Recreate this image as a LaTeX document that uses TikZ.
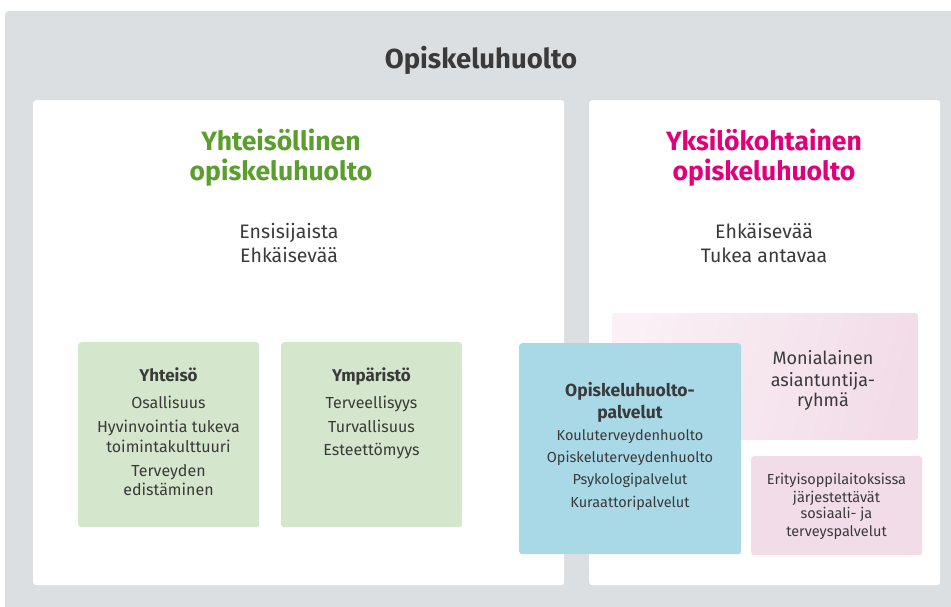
\documentclass[tikz,border=0pt]{standalone}
\usepackage{fontspec}
\setmainfont{Fira Sans}
\definecolor{bggray}{HTML}{DCDFE2}
\definecolor{txt}{HTML}{3A3A3A}
\definecolor{grn}{HTML}{5A9E2E}
\definecolor{mag}{HTML}{E2007A}
\definecolor{greenbox}{HTML}{D4E6CB}
\definecolor{bluebox}{HTML}{A9D8E6}
\definecolor{pinkbox}{HTML}{F2DCE8}
\definecolor{pinklight}{HTML}{FAF0F5}
\tikzset{
  panel/.style={fill=#1, rounded corners=3pt, inner sep=0pt, anchor=north west},
  lbl/.style={text=txt, inner sep=0pt, anchor=base, align=center},
  head/.style={lbl, font=\bfseries\fontsize{26.5}{30}\selectfont},
  sub/.style={lbl, font=\fontsize{19.5}{23}\selectfont},
  gtxt/.style={lbl, font=\fontsize{16}{19}\selectfont},
  gbold/.style={lbl, font=\bfseries\fontsize{17}{20}\selectfont},
  btxt/.style={lbl, font=\fontsize{14.5}{17}\selectfont},
  bbold/.style={lbl, font=\bfseries\fontsize{17.5}{20}\selectfont},
}
\begin{document}
\begin{tikzpicture}[x=1pt,y=-1pt]
\useasboundingbox (0,0) rectangle (951,607);
\fill[white] (0,0) rectangle (951,607);
\node[panel=bggray, minimum width=960pt, minimum height=600pt] (outer) at (5,11) {};
\node[panel=white, minimum width=531pt, minimum height=485pt] (leftp) at (33,100) {};
\node[panel=white, minimum width=351pt, minimum height=485pt] (rightp) at (589,100) {};
\node[head, font=\bfseries\fontsize{27.5}{30}\selectfont] (title) at (481,69) {Opiskeluhuolto};
% left panel
\node[head, text=grn] (lh1) at (281,151) {Yhteisöllinen};
\node[head, text=grn] (lh2) at (281,181) {opiskeluhuolto};
\node[sub] (ls1) at (289,238) {Ensisijaista};
\node[sub] (ls2) at (289,262) {Ehkäisevää};
\node[panel=greenbox, minimum width=181pt, minimum height=185pt] (g1) at (78,342) {};
\node[panel=greenbox, minimum width=181pt, minimum height=185pt] (g2) at (281,342) {};
\node[gbold] (g1h) at (168.5,381) {Yhteisö};
\node[gtxt] (g1a) at (168.5,408) {Osallisuus};
\node[gtxt] (g1b) at (168.5,432) {Hyvinvointia tukeva};
\node[gtxt] (g1c) at (168.5,452) {toimintakulttuuri};
\node[gtxt] (g1d) at (168.5,476) {Terveyden};
\node[gtxt] (g1e) at (168.5,495) {edistäminen};
\node[gbold] (g2h) at (371.5,381) {Ympäristö};
\node[gtxt] (g2a) at (371.5,408) {Terveellisyys};
\node[gtxt] (g2b) at (371.5,432) {Turvallisuus};
\node[gtxt] (g2c) at (371.5,455) {Esteettömyys};
% right panel
\node[head, text=mag] (rh1) at (764,151) {Yksilökohtainen};
\node[head, text=mag] (rh2) at (764,181) {opiskeluhuolto};
\node[sub] (rs1) at (764,238) {Ehkäisevää};
\node[sub] (rs2) at (764,262) {Tukea antavaa};
\shade[rounded corners=3pt, left color=pinklight, right color=pinkbox, shading angle=75] (612,313) rectangle (918,440);
\node[inner sep=0pt, minimum width=306pt, minimum height=127pt, anchor=north west] (mon) at (612,313) {};
\node[sub, font=\fontsize{18}{21}\selectfont] (m1) at (823,364) {Monialainen};
\node[sub, font=\fontsize{18}{21}\selectfont] (m2) at (823,386) {asiantuntija-};
\node[sub, font=\fontsize{18}{21}\selectfont] (m3) at (823,406) {ryhmä};
\node[panel=pinkbox, minimum width=171pt, minimum height=99pt] (eri) at (751,456) {};
\node[btxt] (e1) at (836.5,484) {Erityisoppilaitoksissa};
\node[btxt] (e2) at (836.5,502) {järjestettävät};
\node[btxt] (e3) at (836.5,518) {sosiaali- ja};
\node[btxt] (e4) at (836.5,536) {terveyspalvelut};
\node[panel=bluebox, minimum width=222pt, minimum height=211pt] (blue) at (519,343) {};
\node[bbold] (b1) at (630,396) {Opiskeluhuolto-};
\node[bbold] (b2) at (630,418) {palvelut};
\node[btxt] (b3) at (630,440) {Kouluterveydenhuolto};
\node[btxt] (b4) at (630,462) {Opiskeluterveydenhuolto};
\node[btxt] (b5) at (630,484) {Psykologipalvelut};
\node[btxt] (b6) at (630,507) {Kuraattoripalvelut};
\end{tikzpicture}
\end{document}
